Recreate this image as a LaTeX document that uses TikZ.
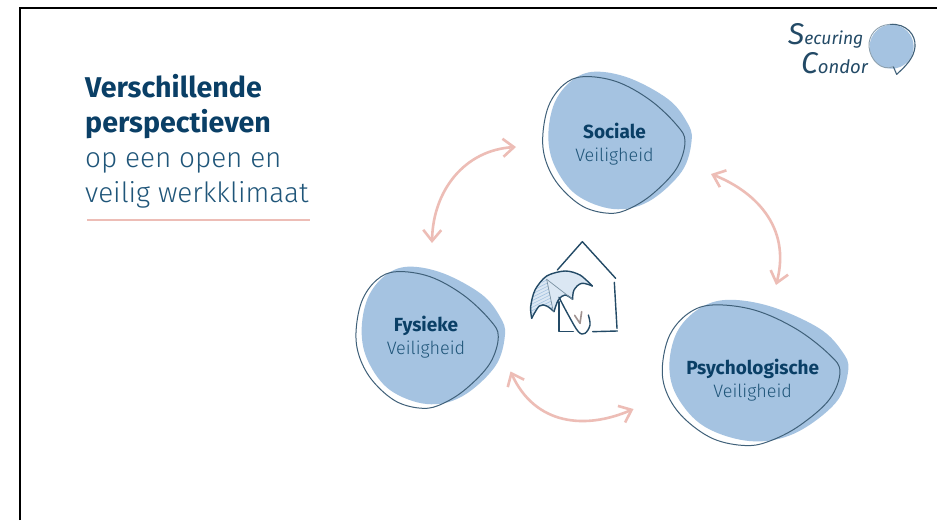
\documentclass[tikz,border=0pt]{standalone}
\usepackage{fontspec}
\setmainfont{Fira Sans}
\newfontfamily\boldf{Fira Sans}[UprightFont={* Bold}]
\newfontfamily\lightf{Fira Sans}[UprightFont={* Light}]
\usetikzlibrary{arrows.meta}
\definecolor{navy}{HTML}{0A3F66}
\definecolor{navyl}{HTML}{1F5579}
\definecolor{blobfill}{HTML}{A5C3E1}
\definecolor{blobline}{HTML}{3F6079}
\definecolor{rosy}{HTML}{EDBDB6}
\definecolor{ink}{HTML}{234A66}
\tikzset{
  x=1pt,y=-1pt,
  blobpic/.pic={
    \fill[blobfill] plot[smooth cycle,tension=0.6] coordinates {(85,230)(103,130)(155,62)(225,35)(330,55)(445,118)(500,185)(515,240)(485,335)(385,425)(280,447)(170,405)(105,320)};
    \draw[blobline,line width=1pt] plot[smooth cycle,tension=0.6] coordinates {(68,235)(85,140)(130,75)(190,50)(290,65)(390,120)(470,195)(495,245)(470,325)(400,400)(330,445)(270,460)(190,440)(120,380)(80,310)};
  },
  headtxt/.style={anchor=base west,inner sep=0pt,font=\boldf\fontsize{28.6}{28.6}\selectfont,text=navy},
  subtxt/.style={anchor=base west,inner sep=0pt,font=\lightf\fontsize{27.9}{27.9}\selectfont,text=navyl},
  bloba/.style={anchor=base,inner sep=0pt,font=\boldf\fontsize{19}{19}\selectfont,text=navy},
  blobb/.style={anchor=base,inner sep=0pt,font=\lightf\fontsize{18}{18}\selectfont,text=navyl},
  twoway/.style={rosy,line width=2.6pt,{Straight Barb[length=11pt,width=18pt,line width=2.6pt]}-{Straight Barb[length=11pt,width=18pt,line width=2.6pt]}},
  iconline/.style={ink,line width=1.4pt,line cap=round,line join=round},
  logotxt/.style={anchor=base west,inner sep=0pt,text=ink,font=\itshape\rmfamily},
}
\begin{document}
\begin{tikzpicture}
\useasboundingbox (0,0) rectangle (937,520);
\fill[white] (0,0) rectangle (937,520);
% frame
\draw[black,line width=2pt] (20,520) -- (20,8.3) -- (937,8.3);
% title
\node[headtxt] (t1) at (85,97.5) {Verschillende};
\node[headtxt] (t2) at (85,132) {perspectieven};
\node[subtxt] (t3) at (85,167) {op een open en};
\node[subtxt] (t4) at (85,202) {veilig werkklimaat};
\coordinate (ua) at (87,219.5);
\coordinate (ub) at (310,219.5);
\draw[rosy,line width=2pt] (ua) -- (ub);
% blobs
\pic[shift={(520,60)},scale=1/3] {blobpic};
\pic[shift={(333.3,255)},scale=1/3] {blobpic};
\pic[shift={(634,287.8)},xscale=0.416,yscale=0.343] {blobpic};
\node[bloba] (soc) at (614.5,138) {Sociale};
\node[blobb] (socv) at (614.5,161.5) {Veiligheid};
\node[bloba] (fys) at (426,331) {Fysieke};
\node[blobb] (fysv) at (426,354.5) {Veiligheid};
\node[bloba] (psy) at (752.7,374) {Psychologische};
\node[blobb] (psyv) at (752.7,397) {Veiligheid};
% arrows
\coordinate (a1) at (516,147);
\coordinate (a2) at (432,243);
\coordinate (b1) at (711,174);
\coordinate (b2) at (776,285);
\coordinate (c1) at (510.5,371.5);
\coordinate (c2) at (633.5,409);
\draw[twoway] (a2) .. controls (433,190) and (465,150) .. (a1);
\draw[twoway] (b1) .. controls (752,190) and (792,225) .. (b2);
\draw[twoway] (c1) .. controls (535,425) and (585,430) .. (c2);
% house and umbrella
\begin{scope}[shift={(500,200)},scale=1/3]
  \fill[blobfill!40] plot[smooth,tension=0.5] coordinates {(95,340)(92,320)(105,270)(140,228)(195,213)(240,225)(277,258)} -- plot[smooth,tension=0.6] coordinates {(277,258)(245,250)(222,270)(218,298)} -- plot[smooth,tension=0.6] coordinates {(218,298)(195,285)(175,300)(162,335)} -- plot[smooth,tension=0.6] coordinates {(162,335)(140,318)(118,318)(95,355)} -- cycle;
  \begin{scope}
    \clip (95,350) -- (92,320) -- (105,270) -- (140,232) -- (160,335) -- (140,318) -- (118,318) -- cycle;
    \foreach \k in {0,10,...,130} {\draw[blobfill,line width=0.6pt] (80,270+\k) -- (170,225+\k);}
  \end{scope}
  \draw[iconline] (172,210) -- (247,125) -- (347,235);
  \draw[iconline] (343,247) -- (351,385);
  \draw[iconline] (278,395) -- (352,393);
  \draw[iconline] (177,305) -- (177,395) -- (220,395);
  \draw[iconline] plot[smooth,tension=0.5] coordinates {(95,355)(92,320)(105,270)(140,228)(195,213)(240,225)(277,258)};
  \draw[iconline] plot[smooth,tension=0.6] coordinates {(277,258)(245,250)(222,270)(218,298)};
  \draw[iconline] plot[smooth,tension=0.6] coordinates {(218,298)(195,285)(175,300)(162,335)};
  \draw[iconline] plot[smooth,tension=0.6] coordinates {(162,335)(140,318)(118,318)(95,355)};
  \draw[iconline] plot[smooth,tension=0.6] coordinates {(177,292)(205,345)(235,395)(255,400)(270,375)(265,345)};
  \draw[blobline!70,line width=0.7pt,line cap=round] (140,238) -- (160,335);
  \draw[blobline!70,line width=0.7pt,line cap=round] (140,238) -- (218,298);
  \draw[gray!70!rosy,line width=1.6pt,line cap=round,line join=round] (224,346) -- (240,370) -- (245,335);
\end{scope}
% logo
\begin{scope}[shift={(840,15)},scale=1/3]
  \fill[blobfill] (155,95) circle (66);
  \draw[blobline,line width=1.1pt,line join=round] (150,28) .. controls (200,25) and (228,60) .. (225,95) .. controls (222,130) and (195,155) .. (170,178) -- (160,155);
  \draw[blobline!60,line width=0.9pt] (160,155) .. controls (125,170) and (90,135) .. (87,95) .. controls (85,60) and (110,30) .. (150,28);
\end{scope}
\node[logotxt] (lg1) at (788,44) {\fontsize{30}{30}\selectfont S\fontsize{17.5}{17.5}\selectfont ecuring};
\node[logotxt] (lg2) at (801,73) {\fontsize{30}{30}\selectfont C\fontsize{18.5}{18.5}\selectfont ondor};
\end{tikzpicture}
\end{document}
